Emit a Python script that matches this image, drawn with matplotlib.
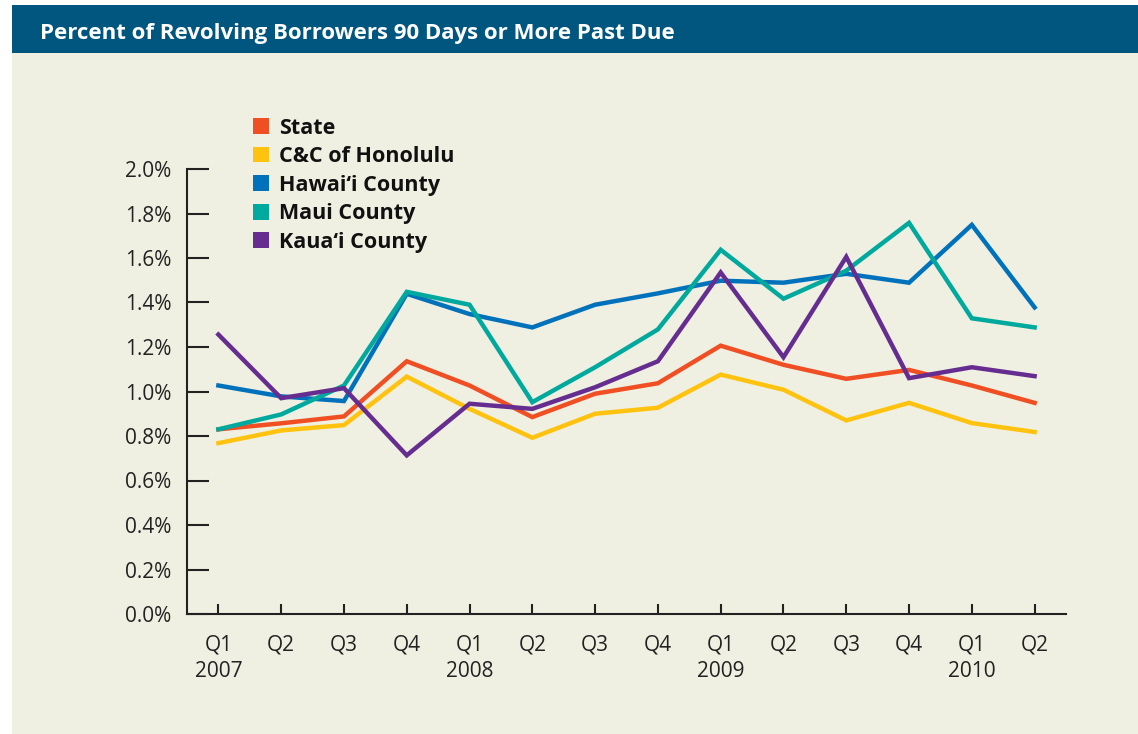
import numpy as np
import matplotlib.pyplot as plt
from matplotlib.patches import Patch, Rectangle

# Quarterly data, Q1 2007 .. Q2 2010 (percent)
quarters = ['Q1\n2007', 'Q2', 'Q3', 'Q4',
            'Q1\n2008', 'Q2', 'Q3', 'Q4',
            'Q1\n2009', 'Q2', 'Q3', 'Q4',
            'Q1\n2010', 'Q2']

state = [0.83, 0.857, 0.888, 1.136, 1.027, 0.885, 0.99, 1.037, 1.206, 1.12, 1.057, 1.097, 1.027, 0.949]
honolulu = [0.768, 0.825, 0.849, 1.067, 0.922, 0.792, 0.90, 0.927, 1.076, 1.008, 0.87, 0.949, 0.858, 0.818]
hawaii = [1.027, 0.978, 0.957, 1.439, 1.348, 1.288, 1.39, 1.441, 1.498, 1.489, 1.529, 1.489, 1.749, 1.378]
maui = [0.83, 0.897, 1.027, 1.448, 1.39, 0.952, 1.109, 1.279, 1.637, 1.417, 1.543, 1.758, 1.329, 1.288]
kauai = [1.256, 0.970, 1.015, 0.713, 0.945, 0.922, 1.019, 1.136, 1.535, 1.154, 1.605, 1.06, 1.109, 1.069]

names = ['State', 'C&C of Honolulu', 'Hawai\u2018i County', 'Maui County', 'Kaua\u2018i County']
colors = ['#f04e23', '#ffc20e', '#0072bc', '#00a99d', '#662d91']
series = [state, honolulu, hawaii, maui, kauai]

bg = '#f0f0e2'
bar = '#00567f'
ink = '#222222'

plt.rcParams['font.family'] = ['Open Sans', 'DejaVu Sans']

fig = plt.figure(figsize=(11.38, 7.34), dpi=100)
fig.patch.set_facecolor('white')

# background panel and title bar (behind the axes)
fig.patches.append(Rectangle((12 / 1138, 0), 1 - 12 / 1138, 1 - 53 / 734,
                             transform=fig.transFigure, facecolor=bg, edgecolor='none', zorder=-5))
fig.patches.append(Rectangle((12 / 1138, 1 - 53 / 734), 1 - 12 / 1138, 48 / 734,
                             transform=fig.transFigure, facecolor=bar, edgecolor='none', zorder=-5))
fig.text(40 / 1138, 1 - 33 / 734, 'Percent of Revolving Borrowers 90 Days or More Past Due',
         color='white', fontsize=16, fontweight='bold', va='center', ha='left')

ax = fig.add_axes([187 / 1138, 1 - 614 / 734, (1066 - 187) / 1138, (614 - 169) / 734])
ax.set_facecolor('none')

x = np.arange(len(quarters))
for vals, c in zip(series, colors):
    ax.plot(x, vals, color=c, lw=3.2, solid_joinstyle='miter', zorder=3)

ax.set_xlim(-0.5, 13.5)
ax.set_ylim(0, 2.0)
ax.set_xticks(x)
ax.set_xticklabels(quarters, linespacing=1.3)
ax.set_yticks(np.arange(0, 2.01, 0.2))
ax.set_yticklabels([f'{v:.1f}%' for v in np.arange(0, 2.01, 0.2)])

for s in ['top', 'right']:
    ax.spines[s].set_visible(False)
for s in ['left', 'bottom']:
    ax.spines[s].set_color(ink)
    ax.spines[s].set_linewidth(1.5)

ax.tick_params(axis='y', direction='in', length=16, width=1.5, color=ink,
               labelsize=15, labelcolor=ink, pad=-0.5)
ax.tick_params(axis='x', direction='in', length=7.5, width=1.5, color=ink,
               labelsize=15, labelcolor=ink, pad=15)
for lbl in ax.get_yticklabels():
    lbl.set_x(-16 / (1066 - 187))

handles = [Patch(facecolor=c, edgecolor='none') for c in colors]
leg = ax.legend(handles, names, loc='upper left', bbox_to_anchor=(57 / 879, 1 + 60 / 445),
                frameon=False, handlelength=0.74, handleheight=0.74, handletextpad=0.5,
                labelspacing=0.35, prop={'size': 15.5, 'weight': 'bold'}, borderaxespad=0)
for t in leg.get_texts():
    t.set_color('#111111')

fig.savefig('out.png', dpi=100, facecolor=fig.get_facecolor())
